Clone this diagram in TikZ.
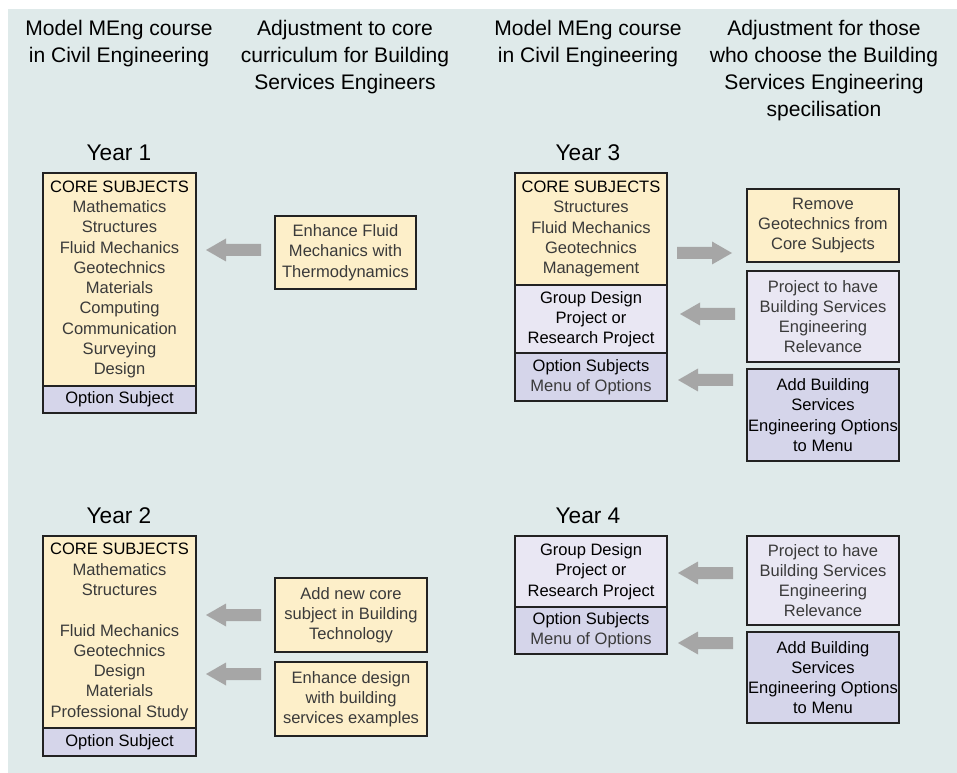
\documentclass[tikz,border=0pt]{standalone}
\usepackage{fontspec}
\setmainfont{Liberation Sans}
\definecolor{bgc}{HTML}{DFEAEA}
\definecolor{corec}{HTML}{FDEFC9}
\definecolor{optc}{HTML}{D5D5EA}
\definecolor{projc}{HTML}{E9E7F3}
\definecolor{arrc}{HTML}{A6A6A6}
\definecolor{edgec}{HTML}{222222}
\definecolor{itemc}{HTML}{3A3A3A}
\tikzset{
  box/.style={draw=edgec, line width=1.2pt, inner sep=0pt, align=center,
    font=\fontsize{12.4}{15.2}\selectfont, text=itemc},
  corebox/.style={box, fill=corec},
  optbox/.style={box, fill=optc},
  projbox/.style={box, fill=projc},
  headtxt/.style={align=center, font=\fontsize{15.8}{20.25}\selectfont, text=black, inner sep=0pt},
  yearlbl/.style={anchor=base, font=\fontsize{17}{20}\selectfont, text=black, inner sep=0pt},
  pics/fatleft/.style={code={\fill[arrc] (0,0) -- (20,-11.5) -- (20,-6) -- (55,-6) -- (55,6) -- (20,6) -- (20,11.5) -- cycle;}}
}
\newcommand{\ttl}[1]{\textcolor{black}{#1}}
\begin{document}
\begin{tikzpicture}[x=0.75pt,y=-0.75pt]
\useasboundingbox (0,0) rectangle (957,773);
\fill[bgc] (8,9) rectangle (957,773);

% headers
\node[headtxt] (h1) at (119,43.5) {Model MEng course\\in Civil Engineering};
\node[headtxt] (h2) at (345,57) {Adjustment to core\\curriculum for Building\\Services Engineers};
\node[headtxt] (h3) at (588,43.5) {Model MEng course\\in Civil Engineering};
\node[headtxt] (h4) at (824,71) {Adjustment for those\\who choose the Building\\Services Engineering\\specilisation};

% year labels
\node[yearlbl] (y1) at (119,161) {Year 1};
\node[yearlbl] (y2) at (119,523) {Year 2};
\node[yearlbl] (y3) at (588,161) {Year 3};
\node[yearlbl] (y4) at (588,523) {Year 4};

% Year 1
\node[corebox, minimum width=114.75pt, minimum height=159.75pt] (y1core) at (119.5,279.5)
 {\ttl{CORE SUBJECTS}\\Mathematics\\Structures\\Fluid Mechanics\\Geotechnics\\Materials\\Computing\\Communication\\Surveying\\Design};
\node[optbox, minimum width=114.75pt, minimum height=20.25pt] (y1opt) at (119.5,399.5) {\ttl{Option Subject}};
\node[corebox, minimum width=105.75pt, minimum height=54.75pt] (y1adj) at (345.5,252.5)
 {Enhance Fluid\\Mechanics with\\Thermodynamics};

% Year 2
\node[corebox, minimum width=114.75pt, minimum height=144pt] (y2core) at (119.5,632)
 {\ttl{CORE SUBJECTS}\\Mathematics\\Structures\\~\\Fluid Mechanics\\Geotechnics\\Design\\Materials\\Professional Study};
\node[optbox, minimum width=114.75pt, minimum height=21pt] (y2opt) at (119.5,742) {\ttl{Option Subject}};
\node[corebox, minimum width=114pt, minimum height=55.5pt] (y2adja) at (351,615)
 {Add new core\\subject in Building\\Technology};
\node[corebox, minimum width=114pt, minimum height=55.5pt] (y2adjb) at (351,699)
 {Enhance design\\with building\\services examples};

% Year 3
\node[corebox, minimum width=114pt, minimum height=84pt] (y3core) at (591,229)
 {\ttl{CORE SUBJECTS}\\Structures\\Fluid Mechanics\\Geotechnics\\Management};
\node[projbox, minimum width=114pt, minimum height=51pt] (y3proj) at (591,319)
 {\ttl{Group Design}\\\ttl{Project or}\\\ttl{Research Project}};
\node[optbox, minimum width=114pt, minimum height=36pt] (y3opt) at (591,377)
 {\ttl{Option Subjects}\\Menu of Options};
\node[corebox, minimum width=114pt, minimum height=54.75pt] (y3adja) at (823,225.5)
 {Remove\\Geotechnics from\\Core Subjects};
\node[projbox, minimum width=114pt, minimum height=68.25pt] (y3adjb) at (823,316.5)
 {Project to have\\Building Services\\Engineering\\Relevance};
\node[optbox, minimum width=114pt, minimum height=69pt] (y3adjc) at (823,415)
 {\ttl{Add Building}\\\ttl{Services}\\\ttl{Engineering Options}\\\ttl{to Menu}};

% Year 4
\node[projbox, minimum width=114pt, minimum height=53.25pt] (y4proj) at (591,571.5)
 {\ttl{Group Design}\\\ttl{Project or}\\\ttl{Research Project}};
\node[optbox, minimum width=114pt, minimum height=35.25pt] (y4opt) at (591,630.5)
 {\ttl{Option Subjects}\\Menu of Options};
\node[projbox, minimum width=114pt, minimum height=66.75pt] (y4adja) at (823,580.5)
 {Project to have\\Building Services\\Engineering\\Relevance};
\node[optbox, minimum width=114pt, minimum height=68.25pt] (y4adjb) at (823,677.5)
 {\ttl{Add Building}\\\ttl{Services}\\\ttl{Engineering Options}\\\ttl{to Menu}};

% fat arrows
\pic at (206,250) {fatleft};
\pic at (206,615) {fatleft};
\pic at (206,674) {fatleft};
\pic[xscale=-1] at (732,253) {fatleft};
\pic at (680,314) {fatleft};
\pic at (678,380) {fatleft};
\pic at (678,573) {fatleft};
\pic at (678,643) {fatleft};
\end{tikzpicture}
\end{document}
